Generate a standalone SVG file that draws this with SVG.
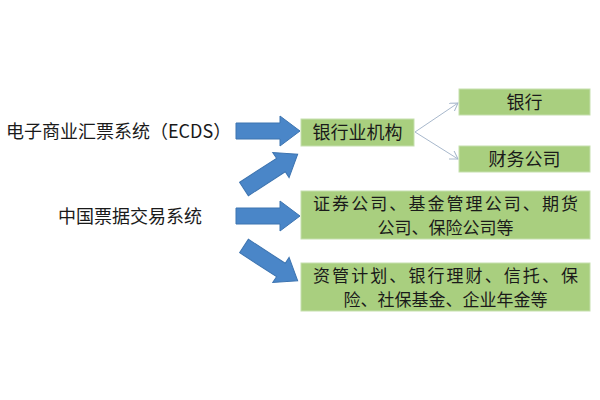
<svg xmlns="http://www.w3.org/2000/svg" width="600" height="400" viewBox="0 0 600 400">
<style>
.box{fill:#a9cf7f;stroke:#c5dfae;stroke-width:1}
text{font-family:"Noto Sans CJK SC","Liberation Sans",sans-serif;font-size:18px;fill:#1a1a1a}
.two{font-size:17px}
.big{fill:#4a86c8;stroke:#3d74b0;stroke-width:1}
</style>
<defs>
<marker id="a" markerWidth="10" markerHeight="10" refX="8" refY="5" orient="auto" markerUnits="userSpaceOnUse"><path d="M0,0 L8,5 L0,10" fill="none" stroke="#a8b8cc" stroke-width="1"/></marker>
<path id="arr" d="M0,-8 L44,-8 L44,-15 L64,0 L44,15 L44,8 L0,8 Z"/>
</defs>
<rect width="600" height="400" fill="#fff"/>
<text x="6" y="138">电子商业汇票系统（ECDS）</text>
<text x="58" y="223">中国票据交易系统</text>
<g id="connectors">
<use href="#arr" class="big" transform="translate(236,131)"/>
<use href="#arr" class="big" transform="translate(244,189) rotate(-33)"/>
<use href="#arr" class="big" transform="translate(236,216)"/>
<use href="#arr" class="big" transform="translate(244,246) rotate(33)"/>
<line x1="415" y1="132" x2="458" y2="103" stroke="#a8b8cc" stroke-width="1" marker-end="url(#a)"/>
<line x1="415" y1="132" x2="458" y2="159" stroke="#a8b8cc" stroke-width="1" marker-end="url(#a)"/>
</g>
<g id="n1"><rect class="box" x="301" y="119" width="113" height="27"/><text x="357.5" y="139" text-anchor="middle">银行业机构</text></g>
<g id="n2"><rect class="box" x="459" y="89" width="131" height="26"/><text x="524.5" y="108.5" text-anchor="middle">银行</text></g>
<g id="n3"><rect class="box" x="459" y="146" width="131" height="26"/><text x="524.5" y="165.5" text-anchor="middle">财务公司</text></g>
<g id="n4"><rect class="box" x="301" y="191" width="289" height="48"/><text class="two" x="445.5" y="210" text-anchor="middle" textLength="265">证券公司、基金管理公司、期货</text><text class="two" x="445.5" y="234" text-anchor="middle">公司、保险公司等</text></g>
<g id="n5"><rect class="box" x="301" y="263" width="289" height="48"/><text class="two" x="445.5" y="282" text-anchor="middle" textLength="265">资管计划、银行理财、信托、保</text><text class="two" x="445.5" y="306" text-anchor="middle">险、社保基金、企业年金等</text></g>
</svg>
